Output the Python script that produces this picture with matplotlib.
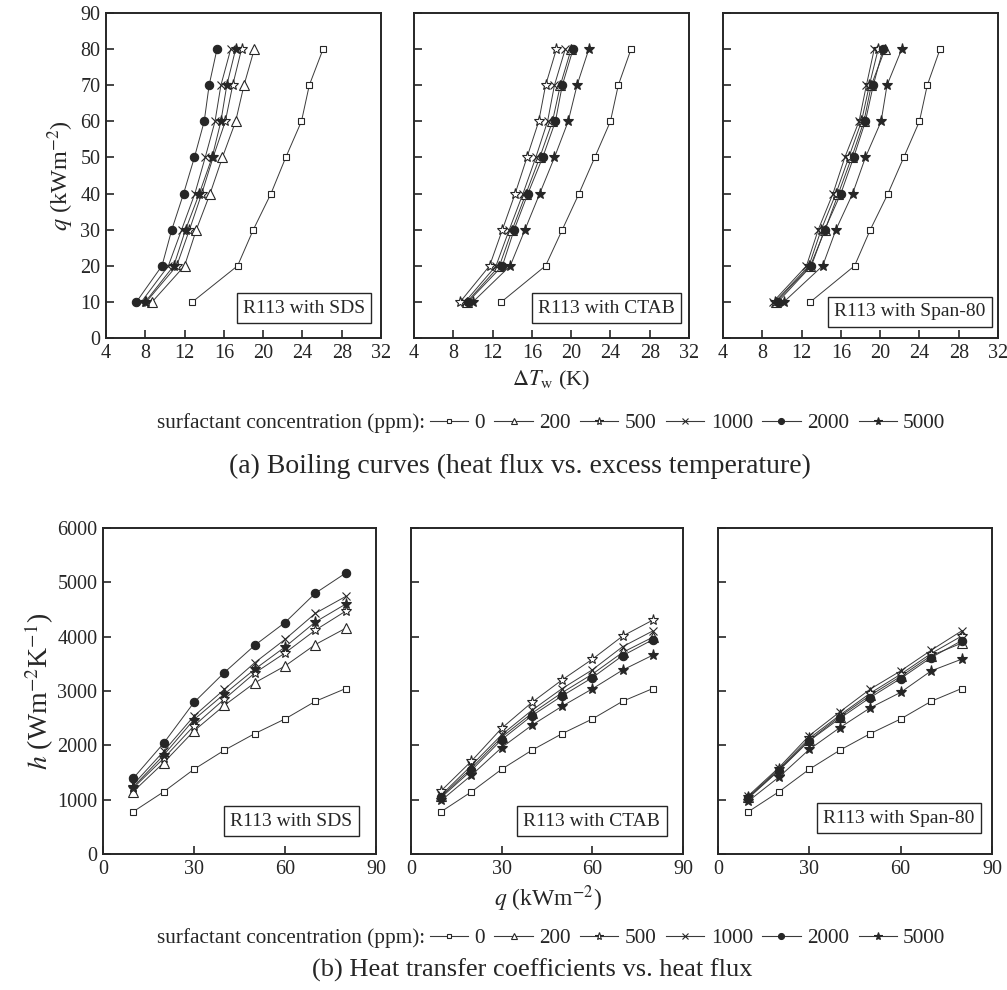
import matplotlib
matplotlib.use("Agg")
import matplotlib.pyplot as plt
from matplotlib.lines import Line2D

plt.rcParams['font.family'] = ['Liberation Serif', 'DejaVu Serif']
plt.rcParams['mathtext.fontset'] = 'stix'

INK = '#262626'

# ---- data -------------------------------------------------------------
q_levels = [10, 20, 30, 40, 50, 60, 70, 80]          # heat flux, kW/m2
concentrations = ['0', '200', '500', '1000', '2000', '5000']   # ppm
panel_names = ['R113 with SDS', 'R113 with CTAB', 'R113 with Span-80']

# wall superheat (K), one row per concentration
dT_sds = [
    [12.8, 17.4, 19.0, 20.8, 22.3, 23.9, 24.7, 26.1],
    [8.7, 12.0, 13.2, 14.6, 15.85, 17.2, 18.05, 19.1],
    [8.1, 11.2, 12.5, 13.75, 14.9, 16.15, 16.9, 17.8],
    [7.6, 10.35, 11.7, 13.05, 14.1, 15.1, 15.7, 16.7],
    [7.1, 9.7, 10.7, 11.9, 13.0, 14.0, 14.5, 15.3],
    [8.0, 10.9, 12.1, 13.5, 14.8, 15.7, 16.3, 17.2],
]
dT_ctab = [
    [12.9, 17.4, 19.1, 20.8, 22.4, 24.0, 24.8, 26.1],
    [9.4, 12.7, 14.0, 15.4, 16.8, 18.1, 18.9, 20.0],
    [8.7, 11.7, 13.0, 14.3, 15.5, 16.7, 17.4, 18.5],
    [9.2, 12.35, 13.7, 15.1, 16.4, 17.6, 18.3, 19.4],
    [9.5, 13.0, 14.2, 15.6, 17.1, 18.4, 19.1, 20.2],
    [10.0, 13.8, 15.3, 16.8, 18.3, 19.7, 20.6, 21.8],
]
dT_span = [
    [12.9, 17.4, 19.0, 20.8, 22.4, 24.0, 24.8, 26.1],
    [9.4, 12.9, 14.4, 15.75, 17.1, 18.35, 19.1, 20.5],
    [9.3, 12.75, 14.0, 15.5, 16.8, 18.1, 18.9, 19.8],
    [9.1, 12.5, 13.7, 15.2, 16.4, 17.85, 18.6, 19.4],
    [9.6, 13.0, 14.35, 16.0, 17.3, 18.5, 19.3, 20.3],
    [10.2, 14.15, 15.5, 17.2, 18.5, 20.1, 20.7, 22.2],
]

# heat transfer coefficient (W/m2K), one row per concentration
h_sds = [
    [780, 1145, 1560, 1910, 2215, 2485, 2810, 3045],
    [1150, 1680, 2265, 2735, 3150, 3460, 3855, 4155],
    [1215, 1760, 2360, 2850, 3330, 3700, 4120, 4470],
    [1280, 1890, 2540, 3030, 3520, 3950, 4430, 4740],
    [1395, 2040, 2790, 3340, 3840, 4260, 4800, 5170],
    [1235, 1820, 2475, 2945, 3400, 3810, 4270, 4600],
]
h_ctab = [
    [780, 1145, 1560, 1910, 2215, 2485, 2810, 3045],
    [1060, 1580, 2150, 2590, 2970, 3310, 3710, 3990],
    [1165, 1710, 2315, 2790, 3205, 3585, 4010, 4305],
    [1085, 1630, 2195, 2645, 3045, 3390, 3815, 4105],
    [1040, 1540, 2105, 2545, 2910, 3245, 3650, 3945],
    [985, 1450, 1960, 2370, 2720, 3040, 3385, 3660],
]
h_span = [
    [780, 1145, 1560, 1910, 2215, 2485, 2810, 3045],
    [1040, 1545, 2095, 2530, 2920, 3268, 3650, 3880],
    [1055, 1565, 2130, 2555, 2960, 3308, 3690, 4010],
    [1075, 1590, 2180, 2615, 3035, 3370, 3750, 4105],
    [1030, 1535, 2085, 2495, 2880, 3230, 3615, 3925],
    [975, 1415, 1925, 2325, 2690, 2975, 3370, 3585],
]

# ---- marker styles per concentration -----------------------------------
styles = [
    dict(marker='s', ms=5.0, mfc='white', mec=INK),
    dict(marker='^', ms=6.5, mfc='white', mec=INK),
    dict(marker='*', ms=8.0, mfc='white', mec=INK),
    dict(marker='x', ms=6.0, mfc=INK, mec=INK),
    dict(marker='o', ms=6.0, mfc=INK, mec=INK),
    dict(marker='*', ms=8.0, mfc=INK, mec=INK),
]

W, H = 1007, 990
fig = plt.figure(figsize=(W / 100, H / 100), dpi=100)


def add_axes_px(x0, x1, ytop, ybot):
    return fig.add_axes([x0 / W, 1 - ybot / H, (x1 - x0) / W, (ybot - ytop) / H])


def style_axes(ax):
    for s in ('top', 'right', 'left', 'bottom'):
        ax.spines[s].set_linewidth(1.4)
        ax.spines[s].set_color(INK)
    ax.tick_params(direction='in', length=6, width=1.2, colors=INK,
                   labelsize=14.5, top=False, right=False, pad=4)


def draw_series(ax, xs_rows, ys_rows):
    for k, st in enumerate(styles):
        ax.plot(xs_rows[k], ys_rows[k], color='#3a3a3a', lw=0.7, mew=0.8,
                zorder=2 + k, **st)


def tag(ax, text, cx, cy):
    ax.text(cx, cy, text, transform=ax.transAxes, ha='center', va='center',
            fontsize=14, color=INK, zorder=20,
            bbox=dict(boxstyle='square,pad=0.33', fc='white', ec=INK, lw=1.0))


# ---- (a) boiling curves ------------------------------------------------
top_x = [(106, 381), (414, 689), (723, 998)]
top_tags = [(0.72, 0.092), (0.70, 0.092), (0.68, 0.08)]
for i, (dT, (x0, x1)) in enumerate(zip([dT_sds, dT_ctab, dT_span], top_x)):
    ax = add_axes_px(x0, x1, 13, 338)
    q_rows = [q_levels] * len(concentrations)
    draw_series(ax, dT, q_rows)
    ax.set_xlim(4, 32)
    ax.set_ylim(0, 90)
    ax.set_xticks(range(4, 33, 4))
    ax.set_yticks(range(0, 91, 10))
    style_axes(ax)
    if i > 0:
        ax.tick_params(labelleft=False)
    else:
        ax.set_ylabel(r'$q$ (kWm$^{-2}$)', fontsize=17.5, color=INK, labelpad=3)
    tag(ax, panel_names[i], *top_tags[i])

fig.text(551 / W, 1 - 380 / H, r'$\Delta T_{\mathrm{w}}$ (K)', ha='center', va='center',
         fontsize=16, color=INK)

# ---- (b) heat transfer coefficients -------------------------------------
bot_x = [(103, 376), (411, 683), (718, 992)]
bot_tags = [(0.69, 0.10), (0.665, 0.10), (0.66, 0.11)]
for i, (h, (x0, x1)) in enumerate(zip([h_sds, h_ctab, h_span], bot_x)):
    ax = add_axes_px(x0, x1, 528, 854)
    q_rows = [q_levels] * len(concentrations)
    draw_series(ax, q_rows, h)
    ax.set_xlim(0, 90)
    ax.set_ylim(0, 6000)
    ax.set_xticks([0, 30, 60, 90])
    ax.set_yticks(range(0, 6001, 1000))
    style_axes(ax)
    if i > 0:
        ax.tick_params(labelleft=False)
    else:
        ax.set_ylabel(r'$h$ (Wm$^{-2}$K$^{-1}$)', fontsize=20, color=INK, labelpad=1)
    tag(ax, panel_names[i], *bot_tags[i])

fig.text(548 / W, 1 - 899 / H, r'$q$ (kWm$^{-2}$)', ha='center', va='center',
         fontsize=17, color=INK)

# ---- inline legends + captions -----------------------------------------
handles = []
for st in styles:
    small = dict(st)
    small['ms'] = st['ms'] * 0.72
    handles.append(Line2D([], [], color='#3a3a3a', lw=0.8, mew=0.8, **small))


def inline_legend(y_px, cx_px=551):
    y = 1 - y_px / H
    t = fig.text(0, y, 'surfactant concentration (ppm):', ha='left', va='center',
                 fontsize=15.3, color=INK)
    leg = fig.legend(handles, concentrations, loc='center left', bbox_to_anchor=(0, y),
                     bbox_transform=fig.transFigure, ncol=6, frameon=False,
                     fontsize=15.3, handlelength=1.8, handletextpad=0.3,
                     columnspacing=0.45, borderpad=0, borderaxespad=0)
    for txt in leg.get_texts():
        txt.set_color(INK)
    fig.canvas.draw()
    r = fig.canvas.get_renderer()
    tw = t.get_window_extent(r).width
    lw = leg.get_window_extent(r).width
    gap = 5
    start = cx_px - (tw + gap + lw) / 2
    t.set_x(start / W)
    leg.set_bbox_to_anchor(((start + tw + gap) / W, y), transform=fig.transFigure)


inline_legend(423)
inline_legend(938)

fig.text(520 / W, 1 - 466 / H, '(a) Boiling curves (heat flux vs. excess temperature)',
         ha='center', va='center', fontsize=20, color=INK)
fig.text(532 / W, 1 - 970 / H, '(b) Heat transfer coefficients vs. heat flux',
         ha='center', va='center', fontsize=19, color=INK)

fig.savefig('out.png', dpi=100, facecolor='white')
